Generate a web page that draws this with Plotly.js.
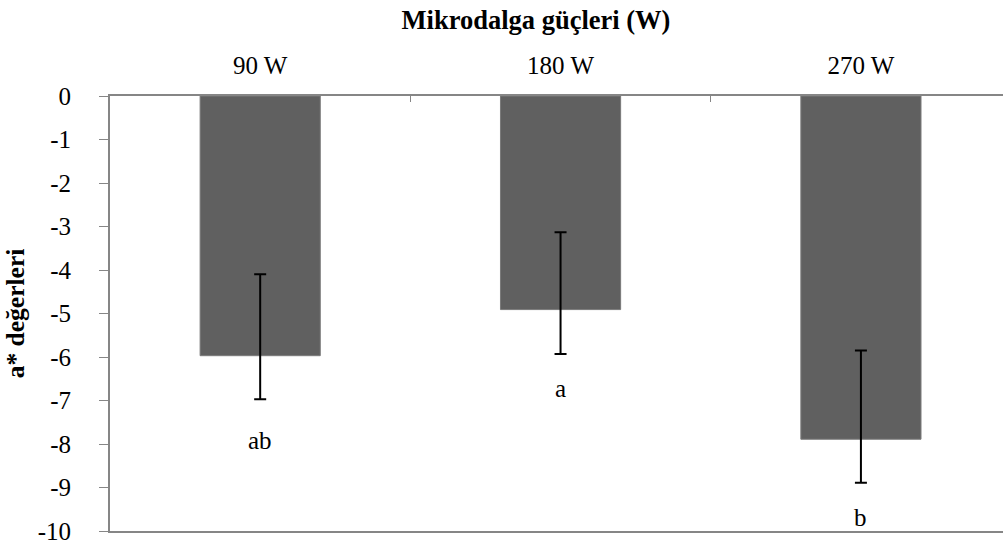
<!DOCTYPE html>
<html>
<head>
<meta charset="utf-8">
<script src="https://cdn.plot.ly/plotly-3.0.1.min.js"></script>
<style>html,body{margin:0;padding:0;background:#fff;}</style>
</head>
<body>
<div id="chart" style="width:1003px;height:546px;"></div>
<script>
const categories = ["90 W", "180 W", "270 W"];
const values = [-5.97, -4.91, -7.89];
const errUp = [1.87, 1.78, 2.04];
const errDown = [1.0, 1.02, 1.0];
const letters = ["ab", "a", "b"];
const letterY = [-7.93, -6.73, -9.68];
const yTicks = [0, -1, -2, -3, -4, -5, -6, -7, -8, -9, -10];

const FONT = "Liberation Serif, Times New Roman, serif";
const AXIS = "#868686";

const trace = {
  type: "bar",
  x: categories,
  y: values,
  width: 0.4,
  marker: {color: "#606060", line: {color: "#7a7a7a", width: 1}},
  error_y: {
    type: "data", symmetric: false,
    array: errUp, arrayminus: errDown,
    color: "#000", thickness: 2, width: 6
  },
  hoverinfo: "none"
};

const annotations = categories.map((c, i) => ({
  x: c, y: letterY[i], xref: "x", yref: "y",
  text: letters[i], showarrow: false,
  font: {family: FONT, size: 25, color: "#000"}
}));

const layout = {
  width: 1003, height: 546,
  margin: {l: 110, r: 0, t: 96, b: 15},
  paper_bgcolor: "#fff", plot_bgcolor: "#fff",
  showlegend: false,
  font: {family: FONT, size: 25, color: "#000"},
  title: {
    text: "<b>Mikrodalga güçleri (W)</b>",
    font: {family: FONT, size: 26.5, color: "#000"},
    xref: "container", x: 536 / 1003, xanchor: "center",
    yref: "container", y: 1 - 20 / 546, yanchor: "middle"
  },
  xaxis: {
    type: "category", side: "top",
    range: [-0.5, 2.473],
    ticks: "inside", tickson: "boundaries", ticklen: 6, tickcolor: AXIS, tickwidth: 1,
    showline: true, linecolor: AXIS, linewidth: 2, mirror: true,
    showgrid: false, zeroline: false,
    tickfont: {family: FONT, size: 25, color: "#000"},
    ticklabelstandoff: 10
  },
  yaxis: {
    range: [-10, 0],
    tickvals: yTicks,
    ticktext: yTicks.map(String),
    ticks: "outside", ticklen: 9, tickcolor: AXIS, tickwidth: 1,
    showline: true, linecolor: AXIS, linewidth: 2,
    showgrid: false, zeroline: false,
    tickfont: {family: FONT, size: 25, color: "#000"},
    ticklabelstandoff: 23,
    title: {text: "<b>a* değerleri</b>", font: {family: FONT, size: 25.5, color: "#000"}, standoff: 6}
  },
  annotations: annotations
};

Plotly.newPlot("chart", [trace], layout, {displayModeBar: false, staticPlot: true});
</script>
</body>
</html>
